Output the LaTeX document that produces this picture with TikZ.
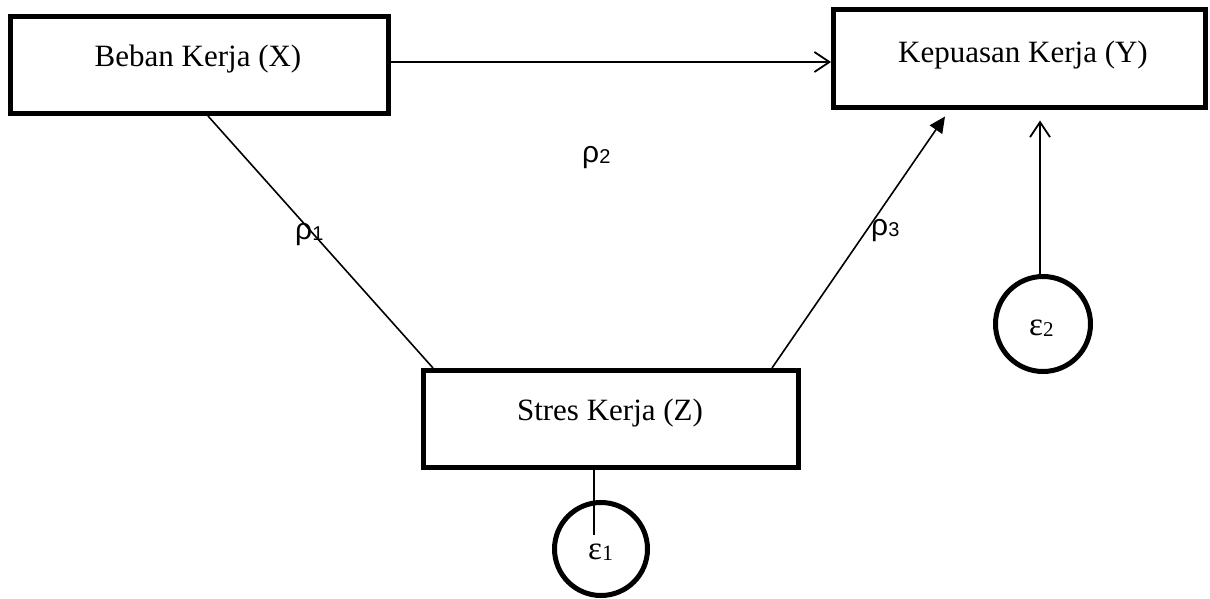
\documentclass[tikz,border=0pt]{standalone}
\usepackage{fontspec}
\setmainfont{Liberation Serif}
\newfontfamily\lsans{Liberation Sans}
\usetikzlibrary{arrows.meta}
\begin{document}
\begin{tikzpicture}[x=1pt,y=1pt,
  box/.style={draw, line width=5pt, rectangle, inner sep=0pt},
  bt/.style={font=\fontsize{31}{36}\selectfont, anchor=base, inner sep=0pt},
  err/.style={draw, circle, line width=5pt, inner sep=0pt},
  conn/.style={line width=1.6pt},
  openarr/.style={conn, -{Straight Barb[length=15pt,width=20pt,line width=1.8pt]}},
  solidarr/.style={conn, -{Triangle[length=16pt,width=15pt]}},
  rho/.style={font=\lsans\fontsize{30}{34}\selectfont, anchor=base west, inner sep=0pt},
  eps/.style={font=\fontsize{33}{36}\selectfont, anchor=base west, inner sep=0pt}]
\useasboundingbox (0,0) rectangle (1210,598);

% boxes
\node[box, minimum width=378pt, minimum height=97pt] (X) at (199.5,533) {};
\node[box, minimum width=372pt, minimum height=98pt] (Y) at (1019.5,539.5) {};
\node[box, minimum width=375pt, minimum height=97pt] (Z) at (611,179) {};
\node[bt] (xt) at (198,531) {Beban Kerja (X)};
\node[bt] (yt) at (1023,535) {Kepuasan Kerja (Y)};
\node[bt] (zt) at (610,178) {Stres Kerja (Z)};

% error circles
\node[err, minimum size=95pt] (e2) at (1043,274) {};
\node[err, minimum size=93pt] (e1) at (601,49) {};
\node[eps] (e2t) at (1029,263) {ε\raisebox{-1pt}{\fontsize{21}{24}\selectfont 2}};
\node[eps] (e1t) at (588,39) {ε\raisebox{-1pt}{\fontsize{22}{24}\selectfont 1}};

% connectors
\coordinate (xy) at ([yshift=3pt]X.east);
\draw[openarr] (xy) -- (xy -| Y.west);
\draw[conn] ([xshift=8.5pt]X.south) -- ([xshift=-178pt]Z.north);
\draw[solidarr] ([xshift=161pt]Z.north) -- ([xshift=-74.5pt,yshift=-6.5pt]Y.south);
\coordinate (e2top) at ([xshift=-3pt]e2.north);
\coordinate (ybot) at ([yshift=-10.5pt]Y.south);
\draw[openarr] (e2top) -- (e2top |- ybot);
\draw[conn] ([xshift=-17pt]Z.south) -- ([xshift=-7pt,yshift=14pt]e1.center);

% path coefficients
\node[rho] (r2) at (582,435) {ρ\raisebox{-1pt}{\fontsize{20}{22}\selectfont 2}};
\node[rho] (r1) at (295,358) {ρ\raisebox{-1pt}{\fontsize{20}{22}\selectfont 1}};
\node[rho] (r3) at (871,362) {ρ\raisebox{-1pt}{\fontsize{20}{22}\selectfont 3}};
\end{tikzpicture}
\end{document}
